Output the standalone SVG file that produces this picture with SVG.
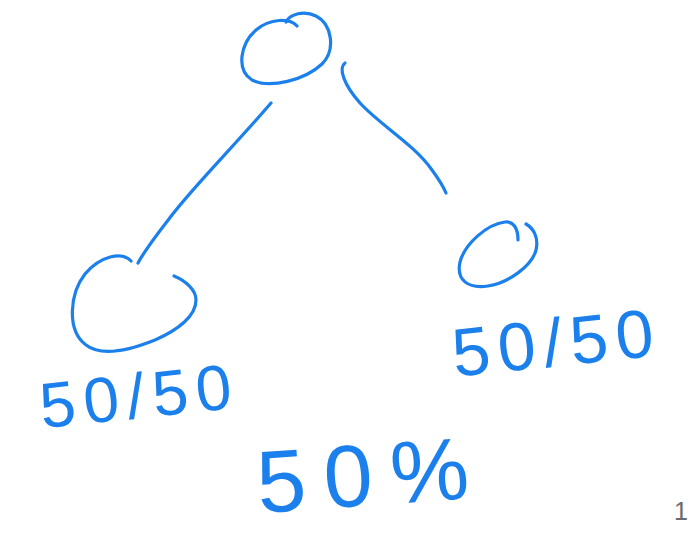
<svg xmlns="http://www.w3.org/2000/svg" width="692" height="533" viewBox="0 0 692 533">
<style>
.ink{fill:none;stroke:#1c80ec;stroke-width:3.2;stroke-linecap:round;stroke-linejoin:round}
.hand{fill:#1c80ec;font-family:"Liberation Sans","DejaVu Sans",sans-serif;text-anchor:middle}
.pg{fill:#6b6b6b;font-family:"Liberation Sans",Arial,sans-serif;font-size:25px;text-anchor:end}
</style>
<rect width="692" height="533" fill="#ffffff"/>
<g id="connectors">
<path class="ink" d="M271,103 C235,145 195,185 172,215 C158,233 146,248 138,263"/>
<path class="ink" d="M345,63 C338,68 344,85 360,103 C380,125 415,145 432,170 C440,181 444,188 446,193"/>
</g>
<g id="node-root">
<path class="ink" d="M297,26 C290,18 270,18 256,30 C240,44 236,70 252,80 C270,89 305,80 322,64 C336,50 332,24 316,16 C304,10 290,14 286,22"/>
</g>
<g id="node-left">
<path class="ink" d="M131,261 C122,251 100,256 85,274 C70,293 66,330 86,345 C100,356 125,352 155,340 C178,330 196,316 196,300 C196,290 186,281 174,276"/>
</g>
<g id="node-right">
<path class="ink" d="M518,240 C518,229 514,221 505,222 C488,224 465,243 460,262 C456,280 468,289 488,286 C508,283 532,266 536,250 C539,237 533,228 526,224"/>
</g>
<g id="label-left">
<text class="hand" x="140" y="418" font-size="64" letter-spacing="8" transform="rotate(-6 140 400)">50/50</text>
</g>
<g id="label-right">
<text class="hand" x="557" y="366" font-size="68" letter-spacing="8" transform="rotate(-6 557 345)">50/50</text>
</g>
<g id="label-bottom">
<text class="hand" x="372" y="505" font-size="88" letter-spacing="18" transform="rotate(-4 372 480)">50%</text>
</g>
<text class="pg" x="688" y="520">1</text>
</svg>
